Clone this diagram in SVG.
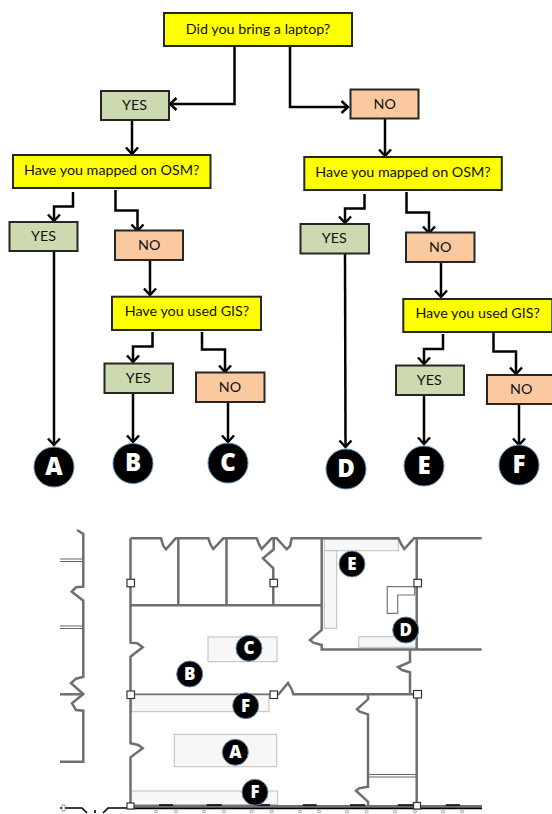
<svg xmlns="http://www.w3.org/2000/svg" width="552" height="814" viewBox="0 0 552 814">
<style>
.q{fill:#ffff00}.y{fill:#cdd9ae}.n{fill:#fbc9a0}
.q,.y,.n{stroke:#262626;stroke-width:2}
.t{font-family:"Lato","Liberation Sans",sans-serif;font-size:14.3px;fill:#111;text-anchor:middle}
.c{fill:#000;stroke:#5f8fb5;stroke-width:1}
.L{font-family:"Open Sans","Liberation Sans",sans-serif;font-weight:800;font-size:24px;fill:#fff;text-anchor:middle}
.l{font-family:"Open Sans","Liberation Sans",sans-serif;font-weight:800;font-size:17px;fill:#fff;text-anchor:middle}
.a{fill:none;stroke:#000;stroke-width:2.5;marker-end:url(#ah)}
.w{fill:none;stroke:#6f6f6f;stroke-width:2.5}
.d{fill:none;stroke:#666;stroke-width:1.2}
.r{fill:#f7f7f7;stroke:#bdbdbd;stroke-width:1}
.s{fill:#fff;stroke:#333;stroke-width:1.2}
.b{fill:none;stroke:#000;stroke-width:1.6}
.p{fill:#fff;stroke:#888;stroke-width:.8}
</style>
<defs>
<marker id="ah" markerUnits="userSpaceOnUse" markerWidth="14" markerHeight="16" refX="8.500" refY="7" orient="auto" overflow="visible">
<path d="M2,1 L8.500,7 L2,13" fill="none" stroke="#000" stroke-width="2.5"/>
</marker>
</defs>

<g id="connectors">
<path class="a" d="M234.500,47V104H170"/>
<path class="a" d="M290,47V107H348"/>
<path class="a" d="M132,120V154"/>
<path class="a" d="M385,119V156"/>
<path class="a" d="M73,192V206.500H54V221"/>
<path class="a" d="M115.500,190V210.500H137.500V231"/>
<path class="a" d="M54,252V445"/>
<path class="a" d="M150,260V295"/>
<path class="a" d="M152.500,332V346.500H133V362"/>
<path class="a" d="M202,332V349.500H225V372"/>
<path class="a" d="M133,394V442"/>
<path class="a" d="M228,403V442"/>
<path class="a" d="M364.500,194V208.500H345V223"/>
<path class="a" d="M406.500,192V212.500H429V233"/>
<path class="a" d="M345,254L345.500,447"/>
<path class="a" d="M441,262V297"/>
<path class="a" d="M443,334V349H424V364"/>
<path class="a" d="M493.500,333V351.500H516V374"/>
<path class="a" d="M424,396V444"/>
<path class="a" d="M519,405V445"/>
</g>

<g id="q1"><rect class="q" x="164" y="13" width="188" height="33"/><text class="t" x="258" y="33.500">Did you bring a laptop?</text></g>
<g id="yes1"><rect class="y" x="101" y="91" width="68" height="29"/><text class="t" x="134.500" y="110">YES</text></g>
<g id="no1"><rect class="n" x="350.500" y="89.500" width="68" height="29"/><text class="t" x="384.700" y="108.500">NO</text></g>
<g id="q2"><rect class="q" x="13" y="155" width="197.500" height="33"/><text class="t" x="111.700" y="174.500">Have you mapped on OSM?</text></g>
<g id="q3"><rect class="q" x="304.300" y="157" width="197.500" height="33"/><text class="t" x="403" y="176.500">Have you mapped on OSM?</text></g>
<g id="yes2"><rect class="y" x="9.500" y="222" width="68" height="29"/><text class="t" x="43.500" y="241">YES</text></g>
<g id="no2"><rect class="n" x="115" y="230.500" width="68" height="29.500"/><text class="t" x="149.300" y="250">NO</text></g>
<g id="yes3"><rect class="y" x="300.500" y="224" width="68.500" height="29.500"/><text class="t" x="334.300" y="243">YES</text></g>
<g id="no3"><rect class="n" x="406" y="232.500" width="68.500" height="29.500"/><text class="t" x="440.300" y="252">NO</text></g>
<g id="q4"><rect class="q" x="112" y="296.700" width="149" height="33.300"/><text class="t" x="187" y="316">Have you used GIS?</text></g>
<g id="q5"><rect class="q" x="403.300" y="299" width="149" height="33"/><text class="t" x="477.700" y="318.300">Have you used GIS?</text></g>
<g id="yes4"><rect class="y" x="104.500" y="363.500" width="68.500" height="29.500"/><text class="t" x="138.300" y="382.700">YES</text></g>
<g id="no4"><rect class="n" x="196" y="372.500" width="68.500" height="29.500"/><text class="t" x="230" y="391.700">NO</text></g>
<g id="yes5"><rect class="y" x="396" y="365.500" width="68" height="29.500"/><text class="t" x="429.300" y="384.700">YES</text></g>
<g id="no5"><rect class="n" x="487" y="375" width="68" height="29"/><text class="t" x="521.300" y="394">NO</text></g>

<g id="out-A"><circle class="c" cx="54" cy="467" r="20"/><text class="L" x="54" y="474.500">A</text></g>
<g id="out-B"><circle class="c" cx="133" cy="463.500" r="20"/><text class="L" x="133" y="471">B</text></g>
<g id="out-C"><circle class="c" cx="228" cy="463" r="20"/><text class="L" x="228" y="470.500">C</text></g>
<g id="out-D"><circle class="c" cx="346" cy="469" r="20"/><text class="L" x="346" y="476.500">D</text></g>
<g id="out-E"><circle class="c" cx="424" cy="466" r="20"/><text class="L" x="424" y="473.500">E</text></g>
<g id="out-F"><circle class="c" cx="519" cy="465" r="20"/><text class="L" x="519" y="472.500">F</text></g>

<g id="plan">
<g id="zones">
<rect class="r" x="208" y="637" width="69" height="24.700"/>
<rect class="r" x="324.300" y="539.300" width="74" height="11.400"/>
<rect class="r" x="324.300" y="550.700" width="12.400" height="77.600"/>
<rect class="r" x="358.700" y="636.700" width="58" height="10.600"/>
<rect class="r" x="131.700" y="695" width="137.300" height="16.700"/>
<rect class="r" x="174.300" y="734.300" width="102.400" height="32.400"/>
<rect class="r" x="130.700" y="791" width="147" height="13.500"/>
</g>
<g id="walls">
<path class="w" d="M77,530L83.300,534V586.700L76,587.300L71.700,591.700L83.300,600.700V676.700L76,678.700L71,683.300L83.300,694L72,703.300L76,710L83.300,710.700V761.700H60"/>
<path class="w" d="M60,694.300H83.300"/>
<path class="d" d="M60,559H83M60,561.500H83M60,626H83M60,628.500H83"/>
<path class="w" d="M130.500,538.300V642.700L137.300,643.300L142.700,647.300L130.500,656.700V743.300L138.300,745L142.700,748.300L130.500,757.300V806"/>
<path class="w" d="M130.500,538.300H161L163.300,546L166,549.300L175.700,538.300H208.300L210.700,545L213.300,549L223.300,538.300H256.700L259.300,545L261.700,549L271.700,538.300H276.700L286.700,549.300L290,546L291.700,538.300H398.300L401.700,545L404.300,549L414,538.300H481.700"/>
<path class="w" d="M178.300,538.300V605M226.500,538.300V605"/>
<path class="w" d="M273.700,538.300V549.300L263,558.300L273.300,568.300V605"/>
<path class="w" d="M130.500,605.300H321.700"/>
<path class="w" d="M321.700,538.300V630L310,640L313.300,642.700L321.700,645V649.500H481.700"/>
<path class="w" d="M416.700,538.300V649.500"/>
<path class="w" d="M410,650V662L398,667L402,670L410,672.300V694.300"/>
<path class="w" d="M278,695L288,683L292,690L293.300,694.300H416.700V806"/>
<path class="w" d="M130.500,694.300H273.300" style="stroke-width:1.500"/>
<path class="w" d="M368,694.300V699.300L357,709.300L359.700,711.700L368,714.300V786.700L359,788.300L356,790.700L368,801.700V806"/>
<path class="d" d="M369,774.500H416M369,777H416"/>
<path class="w" d="M128,806.500H482" style="stroke-width:3"/>
<path class="b" d="M159,805H173M206.700,805H221.700M254,805H270M302.700,805H316.700M350,805H365M397.700,805H413M445.700,805H460M128,808.500H482"/>
<path class="b" d="M60,808H82L87,813M95,810V813M103,813L108,808H128"/>
<path class="p" d="M62,805h3v6h-3z"/>
<g class="ped">
<circle class="p" cx="156" cy="811.500" r="1.500"/><circle class="p" cx="176" cy="811.500" r="1.500"/>
<circle class="p" cx="204" cy="811.500" r="1.500"/><circle class="p" cx="224" cy="811.500" r="1.500"/>
<circle class="p" cx="251.700" cy="811.500" r="1.500"/><circle class="p" cx="271.700" cy="811.500" r="1.500"/>
<circle class="p" cx="300" cy="811.500" r="1.500"/><circle class="p" cx="319" cy="811.500" r="1.500"/>
<circle class="p" cx="347" cy="811.500" r="1.500"/><circle class="p" cx="366.700" cy="811.500" r="1.500"/>
<circle class="p" cx="395" cy="811.500" r="1.500"/><circle class="p" cx="415" cy="811.500" r="1.500"/>
<circle class="p" cx="443" cy="811.500" r="1.500"/><circle class="p" cx="462" cy="811.500" r="1.500"/>
</g>
<path d="M387.300,586.700H414.700V595H397.700V613.300H387.300Z" fill="#fff" stroke="#777" stroke-width="1.200"/>
<rect class="s" x="127" y="579.300" width="7.500" height="7.500"/>
<rect class="s" x="270" y="579.300" width="7.500" height="7.500"/>
<rect class="s" x="414" y="579.300" width="7.500" height="7.500"/>
<rect class="s" x="127" y="691" width="7.500" height="7.500"/>
<rect class="s" x="270" y="691" width="7.500" height="7.500"/>
<rect class="s" x="413.500" y="690.500" width="8" height="7.500"/>
<rect class="s" x="127" y="803" width="7" height="6"/>
<rect class="s" x="413.500" y="802.500" width="7" height="6.500"/>
</g>
<g id="pin-C"><circle class="c" cx="249" cy="648.300" r="13"/><text class="l" x="249" y="654.300">C</text></g>
<g id="pin-B"><circle class="c" cx="189.700" cy="674" r="13"/><text class="l" x="189.700" y="680">B</text></g>
<g id="pin-E"><circle class="c" cx="352" cy="564" r="13"/><text class="l" x="352" y="570">E</text></g>
<g id="pin-D"><circle class="c" cx="405.700" cy="630" r="13"/><text class="l" x="405.700" y="636">D</text></g>
<g id="pin-F1"><circle class="c" cx="245.700" cy="705.700" r="13"/><text class="l" x="245.700" y="711.700">F</text></g>
<g id="pin-A"><circle class="c" cx="235.300" cy="752.300" r="13"/><text class="l" x="235.300" y="758.300">A</text></g>
<g id="pin-F2"><circle class="c" cx="255" cy="792.300" r="13"/><text class="l" x="255" y="798.300">F</text></g>
</g>
</svg>
